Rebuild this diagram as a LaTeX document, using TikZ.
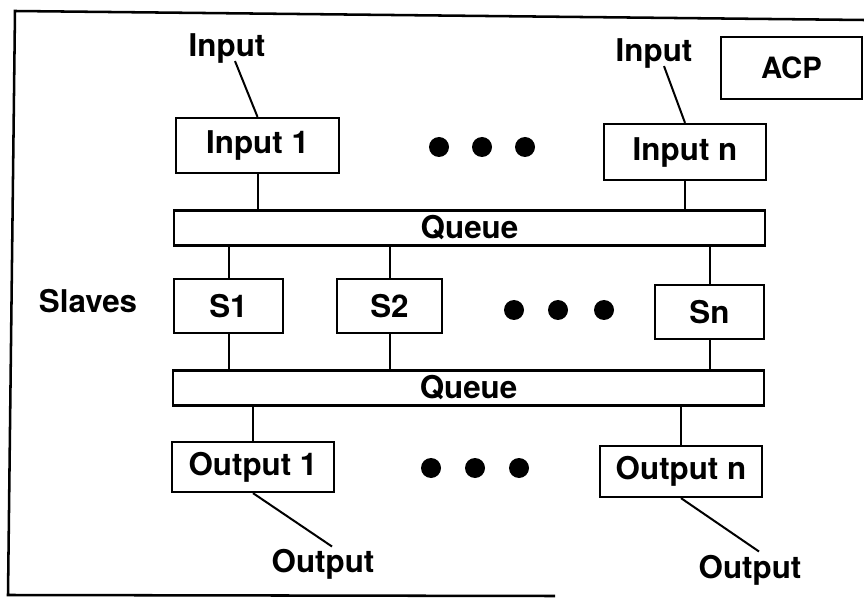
\documentclass[tikz,border=0pt]{standalone}
\usepackage{fontspec}
\setmainfont{TeX Gyre Heros}
\usetikzlibrary{calc}
\begin{document}
\begin{tikzpicture}[x=0.75pt,y=-0.75pt,
  box/.style={draw,line width=1.7pt,inner sep=0pt,font=\fontsize{23.5}{27}\selectfont\bfseries},
  lbl/.style={inner sep=0pt,anchor=base,font=\fontsize{23.5}{27}\selectfont\bfseries},
  conn/.style={line width=1.5pt},
  dotmark/.style={fill=black,circle,inner sep=0pt,minimum size=15pt}]
\useasboundingbox (0,0) rectangle (864,602);
% frame
\coordinate (ftr) at (864,20);
\coordinate (ftl) at (15,11);
\coordinate (fbl) at (8,595);
\coordinate (fbr) at (555,596);
\draw[line width=1.9pt] (ftr) -- (ftl) -- (fbl) -- (fbr);
% boxes
\node[box,minimum width=122.25pt,minimum height=41.25pt] (in1) at (257.5,145.5) {Input 1};
\node[box,minimum width=121.5pt,minimum height=42pt] (inn) at (685,152) {Input n};
\node[box,minimum width=105.75pt,minimum height=46.5pt,font=\fontsize{22}{26}\selectfont\bfseries] (acp) at (791.5,68) {ACP};
\node[box,minimum width=443.25pt,minimum height=26.25pt] (q1) at (469.5,228) {Queue};
\node[box,minimum width=81.75pt,minimum height=40.5pt] (s1) at (228.5,306) {S1};
\node[box,minimum width=78.75pt,minimum height=40.5pt] (s2) at (389.5,306) {S2};
\node[box,minimum width=81.75pt,minimum height=40.5pt] (sn) at (709.5,312) {Sn};
\node[box,minimum width=443.25pt,minimum height=26.25pt] (q2) at (468.5,388) {Queue};
\node[box,minimum width=121.5pt,minimum height=37.5pt] (o1) at (253,467) {Output 1};
\node[box,minimum width=121.5pt,minimum height=38.25pt] (on) at (681,471.5) {Output n};
% labels
\node[lbl] (lin1) at (227,57) {Input};
\node[lbl] (linn) at (654,62) {Input};
\node[lbl] (slaves) at (88,313) {Slaves};
\node[lbl] (lo1) at (323,572) {Output};
\node[lbl] (lon) at (750,578) {Output};
% dots
\foreach \x/\n in {439/a,482/b,525/c} \node[dotmark] (d1\n) at (\x,147) {};
\foreach \x/\n in {514/a,558/b,604/c} \node[dotmark] (d2\n) at (\x,310) {};
\foreach \x/\n in {431/a,475/b,519/c} \node[dotmark] (d3\n) at (\x,468) {};
% connectors
\draw[conn] ($(lin1.south)+(8,-3)$) -- (in1.north);
\draw[conn] ($(linn.south)+(10,-3)$) -- (inn.north);
\draw[conn] (in1.south) -- (in1.south |- q1.north);
\draw[conn] (inn.south) -- (inn.south |- q1.north);
\draw[conn] (s1.north |- q1.south) -- (s1.north);
\draw[conn] (s2.north |- q1.south) -- (s2.north);
\draw[conn] (sn.north |- q1.south) -- (sn.north);
\draw[conn] (s1.south) -- (s1.south |- q2.north);
\draw[conn] (s2.south) -- (s2.south |- q2.north);
\draw[conn] (sn.south) -- (sn.south |- q2.north);
\draw[conn] (o1.north |- q2.south) -- (o1.north);
\draw[conn] (on.north |- q2.south) -- (on.north);
\draw[conn] (o1.south) -- ($(lo1.north)+(9,-2)$);
\draw[conn] (on.south) -- ($(lon.north)+(9,-3)$);
\end{tikzpicture}
\end{document}
